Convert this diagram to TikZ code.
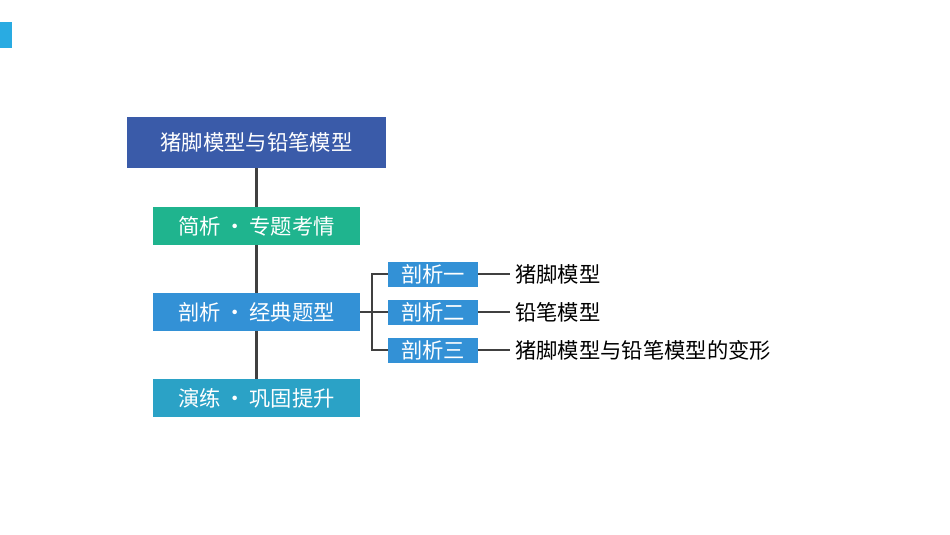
\documentclass[tikz,border=0pt]{standalone}
\usepackage{fontspec}
\newfontfamily\cjk{Noto Sans CJK SC}[BoldFont={Noto Sans CJK SC Bold}]
\definecolor{dblue}{HTML}{3A5BA9}
\definecolor{teal1}{HTML}{1FB48E}
\definecolor{mblue}{HTML}{3391D6}
\definecolor{cblue}{HTML}{2BA2C6}
\definecolor{bar}{HTML}{29ABE2}
\definecolor{ln}{HTML}{404040}
\begin{document}
\begin{tikzpicture}[x=0.75pt,y=-0.75pt,
  box/.style={draw=none,inner sep=0,text=white,font=\cjk\fontsize{16}{18}\selectfont},
  lbl/.style={anchor=west,inner sep=0,font=\cjk\fontsize{16}{18}\selectfont},
  conn/.style={draw=ln,line width=1.6pt}]
\useasboundingbox (0,0) rectangle (950,535);
\fill[white] (0,0) rectangle (950,535);
\fill[bar] (0,22) rectangle (12,48);
\node[box,fill=dblue,minimum width=259*0.75pt,minimum height=51*0.75pt] (t) at (256.5,142.5) {猪脚模型与铅笔模型};
\node[box,fill=teal1,minimum width=207*0.75pt,minimum height=38*0.75pt] (a) at (256.5,226) {简析\,•\,专题考情};
\node[box,fill=mblue,minimum width=207*0.75pt,minimum height=38*0.75pt] (b) at (256.5,312) {剖析\,•\,经典题型};
\node[box,fill=cblue,minimum width=207*0.75pt,minimum height=38*0.75pt] (c) at (256.5,398) {演练\,•\,巩固提升};
\draw[conn] (t) -- (a); \draw[conn] (a) -- (b); \draw[conn] (b) -- (c);
\foreach \n/\y/\s/\l in {1/274/剖析一/猪脚模型,2/312/剖析二/铅笔模型,3/350/剖析三/猪脚模型与铅笔模型的变形}{
  \node[box,fill=mblue,minimum width=90*0.75pt,minimum height=25*0.75pt] (s\n) at (433,\y) {\s};
  \node[lbl] (l\n) at (515,\y) {\l};
  \coordinate (e\n) at (510,\y);
  \draw[conn] (s\n) -- (e\n);
}
\coordinate (j) at (372,312);
\draw[conn] (b.east) -- (j);
\draw[conn] (s1.west) -| (j) |- (s3.west);
\draw[conn] (j) -- (s2.west);
\end{tikzpicture}
\end{document}
